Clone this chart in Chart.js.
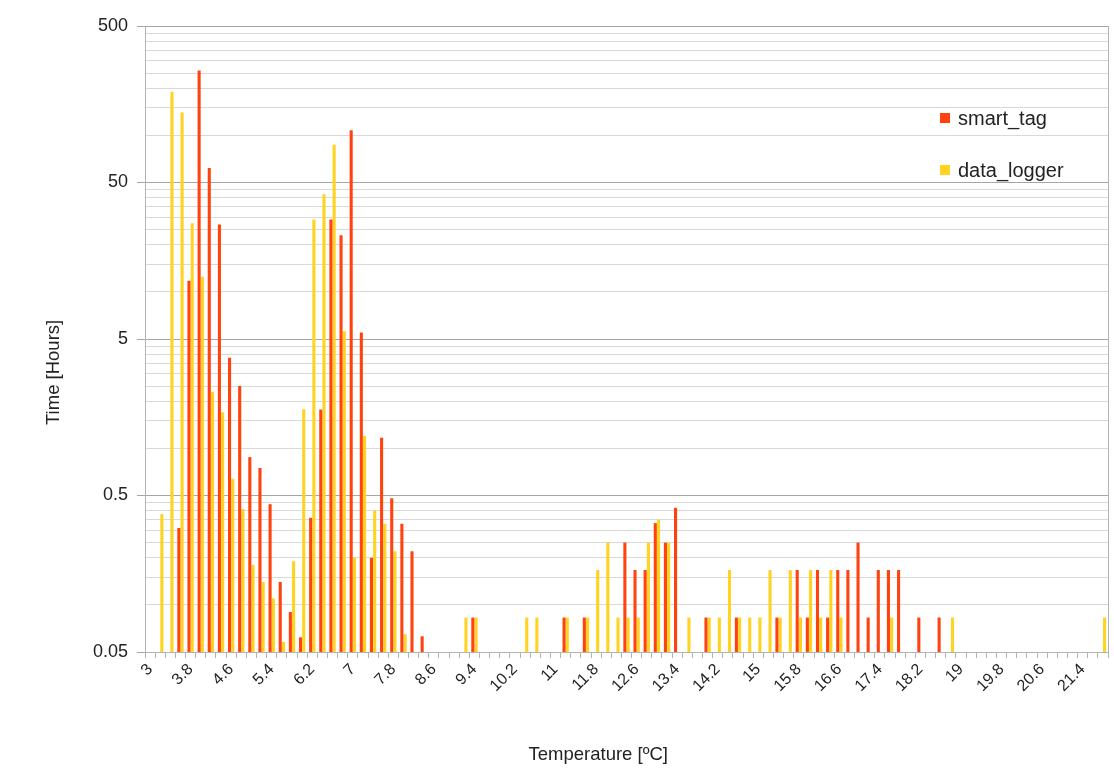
<!DOCTYPE html>
<html>
<head>
<meta charset="utf-8">
<title>Time per temperature</title>
<script src="https://cdn.jsdelivr.net/npm/chart.js@4.4.1/dist/chart.umd.min.js"></script>
<style>
  html, body { margin: 0; padding: 0; background: #fff; }
  #wrap { position: relative; width: 1114px; height: 768px; }
  #legend { position: absolute; left: 940px; top: 105px; font-family: "Liberation Sans", Arial, sans-serif; font-size: 20px; color: #222; }
  #legend .item { display: flex; align-items: center; height: 26px; margin-bottom: 26px; }
  #legend .box { width: 10px; height: 10px; margin-right: 8px; display: inline-block; }
</style>
</head>
<body>
<div id="wrap">
  <canvas id="chart" width="1114" height="768"></canvas>
  <div id="legend"></div>
</div>
<script>
// categorias do eixo X (temperatura, passo 0.2)
const categories = [
  '3', '3.2', '3.4', '3.6', '3.8', '4', '4.2', '4.4', '4.6', '4.8',
  '5', '5.2', '5.4', '5.6', '5.8', '6', '6.2', '6.4', '6.6', '6.8',
  '7', '7.2', '7.4', '7.6', '7.8', '8', '8.2', '8.4', '8.6', '8.8',
  '9', '9.2', '9.4', '9.6', '9.8', '10', '10.2', '10.4', '10.6', '10.8',
  '11', '11.2', '11.4', '11.6', '11.8', '12', '12.2', '12.4', '12.6', '12.8',
  '13', '13.2', '13.4', '13.6', '13.8', '14', '14.2', '14.4', '14.6', '14.8',
  '15', '15.2', '15.4', '15.6', '15.8', '16', '16.2', '16.4', '16.6', '16.8',
  '17', '17.2', '17.4', '17.6', '17.8', '18', '18.2', '18.4', '18.6', '18.8',
  '19', '19.2', '19.4', '19.6', '19.8', '20', '20.2', '20.4', '20.6', '20.8',
  '21', '21.2', '21.4', '21.6', '21.8'
];

// horas por categoria
const smartTag = [
  null, null, null, 0.31, 11.8, 260, 62, 27, 3.8, 2.5,
  0.88, 0.75, 0.44, 0.14, 0.09, 0.062, 0.36, 1.77, 29, 23,
  108, 5.5, 0.2, 1.17, 0.48, 0.33, 0.22, 0.063, null, null,
  null, null, 0.083, null, null, null, null, null, null, null,
  null, 0.083, null, 0.083, null, null, null, 0.25, 0.167, 0.167,
  0.333, 0.25, 0.417, null, null, 0.083, null, null, 0.083, null,
  null, null, 0.083, null, 0.167, 0.083, 0.167, 0.083, 0.167, 0.167,
  0.25, 0.083, 0.167, 0.167, 0.167, null, 0.083, null, 0.083, null,
  null, null, null, null, null, null, null, null, null, null,
  null, null, null, null, null
];

const dataLogger = [
  null, 0.38, 190, 140, 27.5, 12.5, 2.3, 1.7, 0.64, 0.41,
  0.18, 0.14, 0.11, 0.058, 0.19, 1.78, 29, 42, 87, 5.6,
  0.2, 1.2, 0.4, 0.33, 0.22, 0.065, null, null, null, null,
  null, 0.083, 0.083, null, null, null, null, 0.083, 0.083, null,
  null, 0.083, null, 0.083, 0.167, 0.25, 0.083, 0.083, 0.083, 0.25,
  0.35, 0.25, null, 0.083, null, 0.083, 0.083, 0.167, 0.083, 0.083,
  0.083, 0.167, 0.083, 0.167, 0.083, 0.167, 0.083, 0.167, 0.083, null,
  null, null, null, 0.083, null, null, null, null, null, 0.083,
  null, null, null, null, null, null, null, null, null, null,
  null, null, null, null, 0.083
];

// linhas de grade do eixo Y (log) e os rótulos exibidos
const yGridValues = [
  0.05, 0.1, 0.15, 0.2, 0.25, 0.3, 0.35, 0.4, 0.45,
  0.5, 1, 1.5, 2, 2.5, 3, 3.5, 4, 4.5,
  5, 10, 15, 20, 25, 30, 35, 40, 45,
  50, 100, 150, 200, 250, 300, 350, 400, 450,
  500
];
const yTickLabels = ['0.05', '0.5', '5', '50', '500'];

Chart.defaults.font.family = '"Liberation Sans", Arial, sans-serif';
Chart.defaults.color = '#222';

const isMajor = v => yTickLabels.includes(String(v));
// espaços no fim deslocam o título do centro do eixo, como no original
const pad = n => '\u00a0'.repeat(n);

// borda direita da área do gráfico
const plotFrame = {
  id: 'plotFrame',
  beforeDatasetsDraw(chart) {
    const { ctx, chartArea: a } = chart;
    ctx.save();
    ctx.strokeStyle = '#b3b3b3';
    ctx.lineWidth = 1;
    ctx.beginPath();
    ctx.moveTo(Math.round(a.right) + 0.5, a.top);
    ctx.lineTo(Math.round(a.right) + 0.5, a.bottom);
    ctx.stroke();
    ctx.restore();
  }
};

const chart = new Chart(document.getElementById('chart'), {
  type: 'bar',
  data: {
    labels: categories,
    datasets: [
      { label: 'smart_tag', data: smartTag, backgroundColor: '#ff420e', borderWidth: 0 },
      { label: 'data_logger', data: dataLogger, backgroundColor: '#ffd320', borderWidth: 0 }
    ]
  },
  options: {
    responsive: false,
    devicePixelRatio: 1,
    animation: false,
    categoryPercentage: 0.64,
    barPercentage: 0.95,
    layout: { padding: { top: 26, right: 6, left: 0, bottom: 0 } },
    plugins: {
      legend: { display: false },
      tooltip: { enabled: false }
    },
    scales: {
      x: {
        type: 'category',
        offset: true,
        afterFit: s => { s.height = 116; s.paddingLeft = 0; s.paddingRight = 0; },
        grid: { offset: true, drawOnChartArea: false, drawTicks: true, tickLength: 6, color: '#b3b3b3' },
        border: { color: '#b3b3b3' },
        ticks: {
          autoSkip: false,
          minRotation: 45,
          maxRotation: 45,
          padding: 2,
          font: { size: 16 },
          callback: (v, i) => (i % 4 === 0 ? categories[i] : '')
        },
        title: {
          display: true,
          text: 'Temperature [ºC]' + pad(11),
          font: { size: 18.5 },
          padding: { top: 0, bottom: 2 }
        }
      },
      y: {
        type: 'logarithmic',
        min: 0.05,
        max: 500,
        afterFit: s => { s.width = 145; },
        afterBuildTicks: s => { s.ticks = yGridValues.map(v => ({ value: v })); },
        grid: {
          color: c => (c.tick && isMajor(c.tick.value) ? '#a6a6a6' : '#d9d9d9'),
          tickColor: c => (c.tick && isMajor(c.tick.value) ? '#a6a6a6' : 'rgba(0,0,0,0)'),
          tickLength: 8
        },
        border: { color: '#b3b3b3' },
        ticks: {
          autoSkip: false,
          padding: 9,
          font: { size: 18 },
          callback: v => (isMajor(v) ? String(v) : '')
        },
        title: {
          display: true,
          text: 'Time [Hours]' + pad(13),
          font: { size: 18.5 },
          padding: { top: 43, bottom: 0 }
        }
      }
    }
  },
  plugins: [plotFrame]
});

// legenda em HTML dentro da área do gráfico
const legendEl = document.getElementById('legend');
chart.data.datasets.forEach(ds => {
  const item = document.createElement('div');
  item.className = 'item';
  item.innerHTML = `<span class="box" style="background:${ds.backgroundColor}"></span>${ds.label}`;
  legendEl.appendChild(item);
});
</script>
</body>
</html>
